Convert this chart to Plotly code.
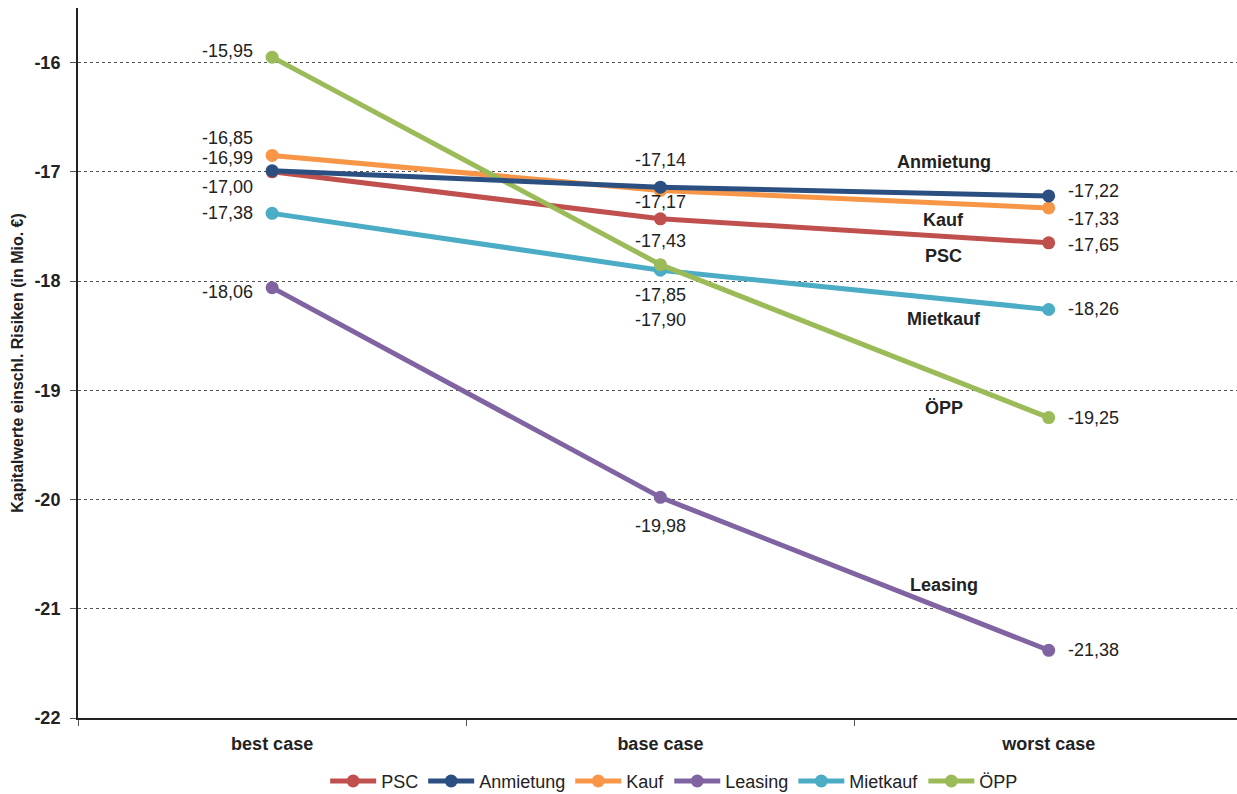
import plotly.graph_objects as go

# Scenario categories
cases = ["best case", "base case", "worst case"]

# Kapitalwerte einschl. Risiken (Mio. €) per procurement variant
psc = [-17.00, -17.43, -17.65]
anmietung = [-16.99, -17.14, -17.22]
kauf = [-16.85, -17.17, -17.33]
leasing = [-18.06, -19.98, -21.38]
mietkauf = [-17.38, -17.90, -18.26]
oepp = [-15.95, -17.85, -19.25]

y_ticks = [-22, -21, -20, -19, -18, -17, -16]

series = [
    ("PSC", psc, "#C0504D"),
    ("Anmietung", anmietung, "#2A4F80"),
    ("Kauf", kauf, "#F79646"),
    ("Leasing", leasing, "#8064A2"),
    ("Mietkauf", mietkauf, "#4BACC6"),
    ("ÖPP", oepp, "#9BBB59"),
]
values = {name: vals for name, vals, _ in series}
colors = {name: c for name, _, c in series}
legend_order = [s[0] for s in series]

FONT = "Liberation Sans, Arial"
TXT = "#222222"

def fmt(v):
    return f"{v:.2f}".replace(".", ",")

fig = go.Figure()
# draw order: later traces on top
draw_order = ["Leasing", "Mietkauf", "PSC", "Kauf", "ÖPP", "Anmietung"]
for name in draw_order:
    fig.add_trace(go.Scatter(
        x=cases, y=values[name], name=name, mode="lines+markers",
        line=dict(color=colors[name], width=5),
        marker=dict(color=colors[name], size=13),
        legendrank=legend_order.index(name),
    ))

# Value labels: (series, category index, xanchor, xshift, yshift)
label_specs = [
    ("ÖPP", 0, "right", -17, 6),
    ("Kauf", 0, "right", -17, 17),
    ("Anmietung", 0, "right", -17, 13),
    ("PSC", 0, "right", -17, -15),
    ("Mietkauf", 0, "right", -17, 0),
    ("Leasing", 0, "right", -17, -4),
    ("Anmietung", 1, "center", 0, 27),
    ("Kauf", 1, "center", 0, -12),
    ("PSC", 1, "center", 0, -22),
    ("ÖPP", 1, "center", 0, -30),
    ("Mietkauf", 1, "center", 0, -50),
    ("Leasing", 1, "center", 0, -29),
    ("Anmietung", 2, "left", 17, 5),
    ("Kauf", 2, "left", 17, -11),
    ("PSC", 2, "left", 17, -2),
    ("Mietkauf", 2, "left", 17, 0),
    ("ÖPP", 2, "left", 17, 0),
    ("Leasing", 2, "left", 17, 0),
]
annotations = []
for name, i, xa, xs, ys in label_specs:
    annotations.append(dict(
        x=cases[i], y=values[name][i], text=fmt(values[name][i]),
        showarrow=False, xanchor=xa, yanchor="middle", xshift=xs, yshift=ys,
        font=dict(family=FONT, size=18, color=TXT),
    ))

# Series name tags near the worst-case end
name_tags = [
    ("Anmietung", -16.91),
    ("Kauf", -17.44),
    ("PSC", -17.77),
    ("Mietkauf", -18.35),
    ("ÖPP", -19.16),
    ("Leasing", -20.78),
]
for name, yv in name_tags:
    annotations.append(dict(
        x=1.73, y=yv, xref="x", yref="y", text=f"<b>{name}</b>",
        showarrow=False, xanchor="center", yanchor="middle",
        font=dict(family=FONT, size=18, color=TXT),
    ))

fig.update_layout(
    width=1237, height=794,
    margin=dict(l=78, r=0, t=8, b=76, autoexpand=False),
    plot_bgcolor="white", paper_bgcolor="white",
    annotations=annotations,
    showlegend=True,
    legend=dict(
        orientation="h", xref="container", yref="container",
        x=0.545, xanchor="center", y=0.016, yanchor="middle",
        font=dict(family=FONT, size=18, color=TXT),
        itemwidth=46, traceorder="normal",
    ),
    xaxis=dict(
        type="category", range=[-0.5, 2.485],
        showline=True, linecolor=TXT, linewidth=2,
        ticks="outside", tickson="boundaries", ticklen=6, tickcolor="#555555",
        ticklabelstandoff=8,
        showgrid=False, zeroline=False,
        tickfont=dict(family=FONT, size=18, color=TXT),
        tickvals=cases, ticktext=[f"<b>{c}</b>" for c in cases],
    ),
    yaxis=dict(
        range=[-22, -15.5], tickvals=y_ticks,
        ticktext=[f"<b>{t}</b>" for t in y_ticks],
        showline=True, linecolor=TXT, linewidth=2,
        ticks="outside", ticklen=6, tickcolor="#555555",
        ticklabelstandoff=6,
        showgrid=True, gridcolor="#555555", griddash="dot", gridwidth=1,
        zeroline=False,
        tickfont=dict(family=FONT, size=18, color=TXT),
        title=dict(
            text="<b>Kapitalwerte einschl. Risiken (in Mio. €)</b>",
            font=dict(family=FONT, size=16, color=TXT),
            standoff=7,
        ),
    ),
)

fig.write_html("out.html")
